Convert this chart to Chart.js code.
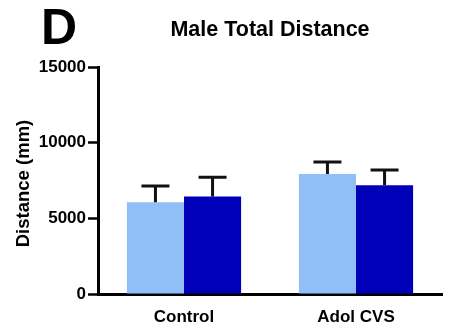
<!DOCTYPE html>
<html>
<head>
<meta charset="utf-8">
<script src="https://cdn.jsdelivr.net/npm/chart.js@4.4.1/dist/chart.umd.min.js"></script>
<style>
html,body{margin:0;padding:0;background:#fff;}
#wrap{position:relative;width:452px;height:332px;}
</style>
</head>
<body>
<div id="wrap"><canvas id="c" width="452" height="332"></canvas></div>
<script>
const categories = ["Control", "Adol CVS"];
const seriesA = [6070, 7930];      // light blue bars (mean)
const seriesB = [6450, 7180];      // dark blue bars (mean)
const errA = [1060, 790];          // SEM, light blue
const errB = [1260, 1010];         // SEM, dark blue
const yTicks = [0, 5000, 10000, 15000];
const panelLetter = "D";
const chartTitle = "Male Total Distance";
const yTitle = "Distance (mm)";

const FONT = "'Liberation Sans', Arial, sans-serif";

const errorBars = {
  id: 'errorBars',
  afterDatasetsDraw(chart) {
    const ctx = chart.ctx;
    const yScale = chart.scales.y;
    const errs = [errA, errB];
    ctx.save();
    ctx.strokeStyle = '#111';
    ctx.lineWidth = 3;
    chart.data.datasets.forEach((ds, di) => {
      const meta = chart.getDatasetMeta(di);
      meta.data.forEach((bar, i) => {
        const top = yScale.getPixelForValue(ds.data[i] + errs[di][i]);
        const x = bar.x;
        ctx.beginPath();
        ctx.moveTo(x, bar.y);
        ctx.lineTo(x, top);
        ctx.moveTo(x - 14, top);
        ctx.lineTo(x + 14, top);
        ctx.stroke();
      });
    });
    ctx.restore();
  }
};

const texts = {
  id: 'texts',
  afterDraw(chart) {
    const ctx = chart.ctx;
    const ca = chart.chartArea;
    ctx.save();
    ctx.fillStyle = '#000';
    ctx.textBaseline = 'alphabetic';
    ctx.textAlign = 'left';
    ctx.font = 'bold 50px ' + FONT;
    ctx.fillText(panelLetter, 41, 44);
    ctx.textAlign = 'center';
    ctx.font = 'bold 21.5px ' + FONT;
    ctx.fillText(chartTitle, 270, 36);
    ctx.translate(24, 183.5);
    ctx.rotate(-Math.PI / 2);
    ctx.font = 'bold 18.5px ' + FONT;
    ctx.textBaseline = 'middle';
    ctx.fillText(yTitle, 0, 0);
    ctx.restore();
  }
};

new Chart(document.getElementById('c'), {
  type: 'bar',
  data: {
    labels: categories,
    datasets: [
      { data: seriesA, backgroundColor: '#90bff8', borderWidth: 0 },
      { data: seriesB, backgroundColor: '#0000b9', borderWidth: 0 }
    ]
  },
  options: {
    responsive: false,
    animation: false,
    devicePixelRatio: 1,
    layout: { padding: { top: 67, right: 10, left: 0, bottom: 0 } },
    plugins: { legend: { display: false }, tooltip: { enabled: false }, title: { display: false } },
    datasets: { bar: { categoryPercentage: 0.664, barPercentage: 1 } },
    scales: {
      x: {
        grid: { display: false, drawTicks: false },
        border: { display: true, color: '#000', width: 3 },
        ticks: { color: '#000', font: { family: FONT, size: 17, weight: 'bold' }, padding: 13 },
        afterFit(s) { s.height = 38; }
      },
      y: {
        min: 0, max: 15000,
        afterBuildTicks(s) { s.ticks = yTicks.map(v => ({ value: v })); },
        grid: { display: true, drawOnChartArea: false, drawTicks: true, tickLength: 10, tickWidth: 2.5, tickColor: '#000' },
        border: { display: true, color: '#000', width: 3 },
        ticks: { color: '#000', font: { family: FONT, size: 17, weight: 'bold' }, padding: 2,
                 callback: v => String(v) },
        afterFit(s) { s.width = 98; }
      }
    }
  },
  plugins: [errorBars, texts]
});
</script>
</body>
</html>
